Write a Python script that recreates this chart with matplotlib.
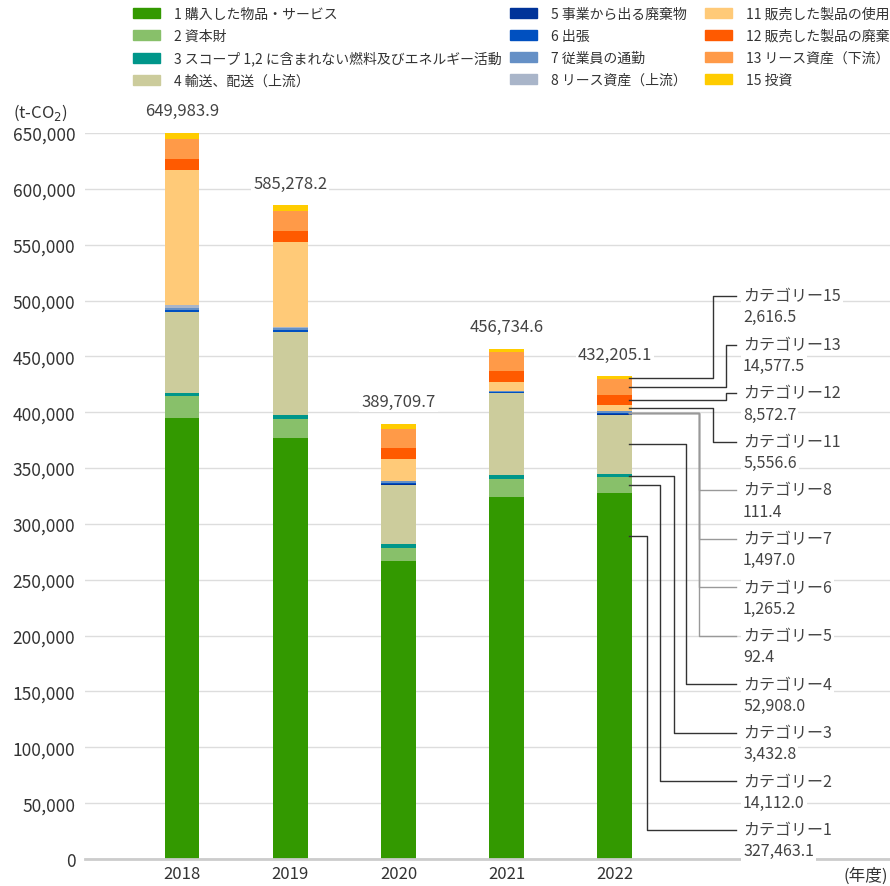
import matplotlib
matplotlib.use("Agg")
import matplotlib.pyplot as plt
from matplotlib.patches import Patch

plt.rcParams['font.family'] = ['Noto Sans CJK JP', 'DejaVu Sans']

# Data (t-CO2)
years = ["2018", "2019", "2020", "2021", "2022"]
totals = [649983.9, 585278.2, 389709.7, 456734.6, 432205.1]

cat_names = ["1 購入した物品・サービス", "2 資本財",
             "3 スコープ 1,2 に含まれない燃料及びエネルギー活動",
             "4 輸送、配送（上流）", "5 事業から出る廃棄物", "6 出張",
             "7 従業員の通勤", "8 リース資産（上流）", "11 販売した製品の使用",
             "12 販売した製品の廃棄", "13 リース資産（下流）", "15 投資"]
cat_short = ["1", "2", "3", "4", "5", "6", "7", "8", "11", "12", "13", "15"]

cat1 = [394883.9, 376778.2, 267009.7, 324534.6, 327463.1]
cat2 = [20000.0, 17300.0, 11500.0, 15400.0, 14112.0]
cat3 = [2500.0, 3500.0, 3500.0, 3500.0, 3432.8]
cat4 = [72000.0, 74000.0, 53000.0, 74000.0, 52908.0]
cat5 = [500.0, 400.0, 300.0, 100.0, 92.4]
cat6 = [1600.0, 1600.0, 1200.0, 600.0, 1265.2]
cat7 = [1500.0, 1600.0, 1500.0, 1200.0, 1497.0]
cat8 = [2800.0, 1500.0, 200.0, 100.0, 111.4]
cat11 = [121000.0, 76000.0, 20000.0, 8000.0, 5556.6]
cat12 = [9500.0, 9800.0, 10000.0, 9500.0, 8572.7]
cat13 = [18500.0, 17800.0, 17000.0, 16800.0, 14577.5]
cat15 = [5200.0, 5000.0, 4500.0, 3000.0, 2616.5]

series = [cat1, cat2, cat3, cat4, cat5, cat6, cat7, cat8,
          cat11, cat12, cat13, cat15]
colors = ["#339900", "#88c06a", "#00968a", "#cccc9c", "#003399", "#0050c0",
          "#6590c6", "#a9b5c9", "#ffca78", "#ff5a00", "#ff9a48", "#ffcc00"]

# create figure
fig = plt.figure(figsize=(8.9, 8.87), dpi=100)
ax = fig.add_axes([85 / 890, 27 / 887, 805 / 890, 726 / 887])

x = list(range(len(years)))
width = 0.323
bottom = [0.0] * len(years)
bottoms = []
for vals, c in zip(series, colors):
    bottoms.append(list(bottom))
    ax.bar(x, vals, width, bottom=bottom, color=c, linewidth=0)
    bottom = [b + v for b, v in zip(bottom, vals)]

# totals above bars
for i, t in enumerate(totals):
    ax.annotate(f"{t:,.1f}", (i, t), xytext=(0, 16), textcoords="offset points",
                ha="center", va="center", fontsize=12, color="#444444",
                bbox=dict(fc="white", ec="none", pad=1.5))

# axes styling
ax.set_xlim(-0.896, 6.541)
ax.set_ylim(0, 650000)
ax.set_yticks(range(0, 650001, 50000))
ax.set_yticklabels([f"{v:,}" for v in range(0, 650001, 50000)])
ax.set_xticks(x)
ax.set_xticklabels(years)
ax.tick_params(length=0, labelsize=12.5, labelcolor="#333333")
ax.tick_params(axis="y", pad=7)
ax.tick_params(axis="x", pad=4, labelsize=12)
ax.yaxis.grid(True, color="#dddddd", lw=1)
ax.set_axisbelow(True)
for s in ["top", "right", "left"]:
    ax.spines[s].set_visible(False)
ax.spines["bottom"].set_color("#cccccc")
ax.spines["bottom"].set_linewidth(2)

fig.text(40 / 890, 1 - 113 / 887, "(t-CO$_2$)", ha="center", va="center",
         fontsize=12, color="#333333")
fig.text(866 / 890, 1 - 876 / 887, "(年度)", ha="center", va="center",
         fontsize=12, color="#333333")

# legend: three columns
handles = [Patch(color=c) for c in colors]
col_x = [133, 510, 705]
for k in range(3):
    fig.legend(handles[k * 4:(k + 1) * 4], cat_names[k * 4:(k + 1) * 4],
               loc="upper left", bbox_to_anchor=(col_x[k] / 890, 1 - 8 / 887),
               frameon=False, fontsize=10, handlelength=1.95,
               handleheight=0.72, handletextpad=1.0, labelspacing=0.57,
               borderpad=0, borderaxespad=0, labelcolor="#333333")

# callouts for 2022
last = len(years) - 1
label_top = 504000
label_step = 43450
elbow_x = [4.298, 4.416, 4.545, 4.656, 4.779, 4.779, 4.779, 4.779,
           4.903, 5.023, 5.023, 4.903]
order = [11, 10, 9, 8, 7, 6, 5, 4, 3, 2, 1, 0]
group_mid = bottoms[4][last] + (cat5[last] + cat6[last] + cat7[last] + cat8[last]) / 2
for rank, idx in enumerate(order):
    val = series[idx][last]
    if idx == 0:
        anchor = val * 0.882
    elif 4 <= idx <= 7:
        anchor = group_mid
    else:
        anchor = bottoms[idx][last] + val / 2
    ly = label_top - rank * label_step
    lc = "#999999" if 4 <= idx <= 7 else "#333333"
    ex = elbow_x[idx]
    ax.plot([last + 0.13, ex, ex, 5.118], [anchor, anchor, ly, ly],
            color=lc, lw=1, zorder=3, clip_on=False)
    ax.text(5.183, ly, "カテゴリー" + cat_short[idx], ha="left", va="center",
            fontsize=11.5, color="#444444", zorder=4,
            bbox=dict(fc="white", ec="none", pad=1.5))
    ax.annotate(f"{val:,.1f}", (5.183, ly), xytext=(0, -15),
                textcoords="offset points", ha="left", va="center",
                fontsize=11.5, color="#444444", zorder=4,
                bbox=dict(fc="white", ec="none", pad=1.5))

plt.savefig("out.png", dpi=100)
